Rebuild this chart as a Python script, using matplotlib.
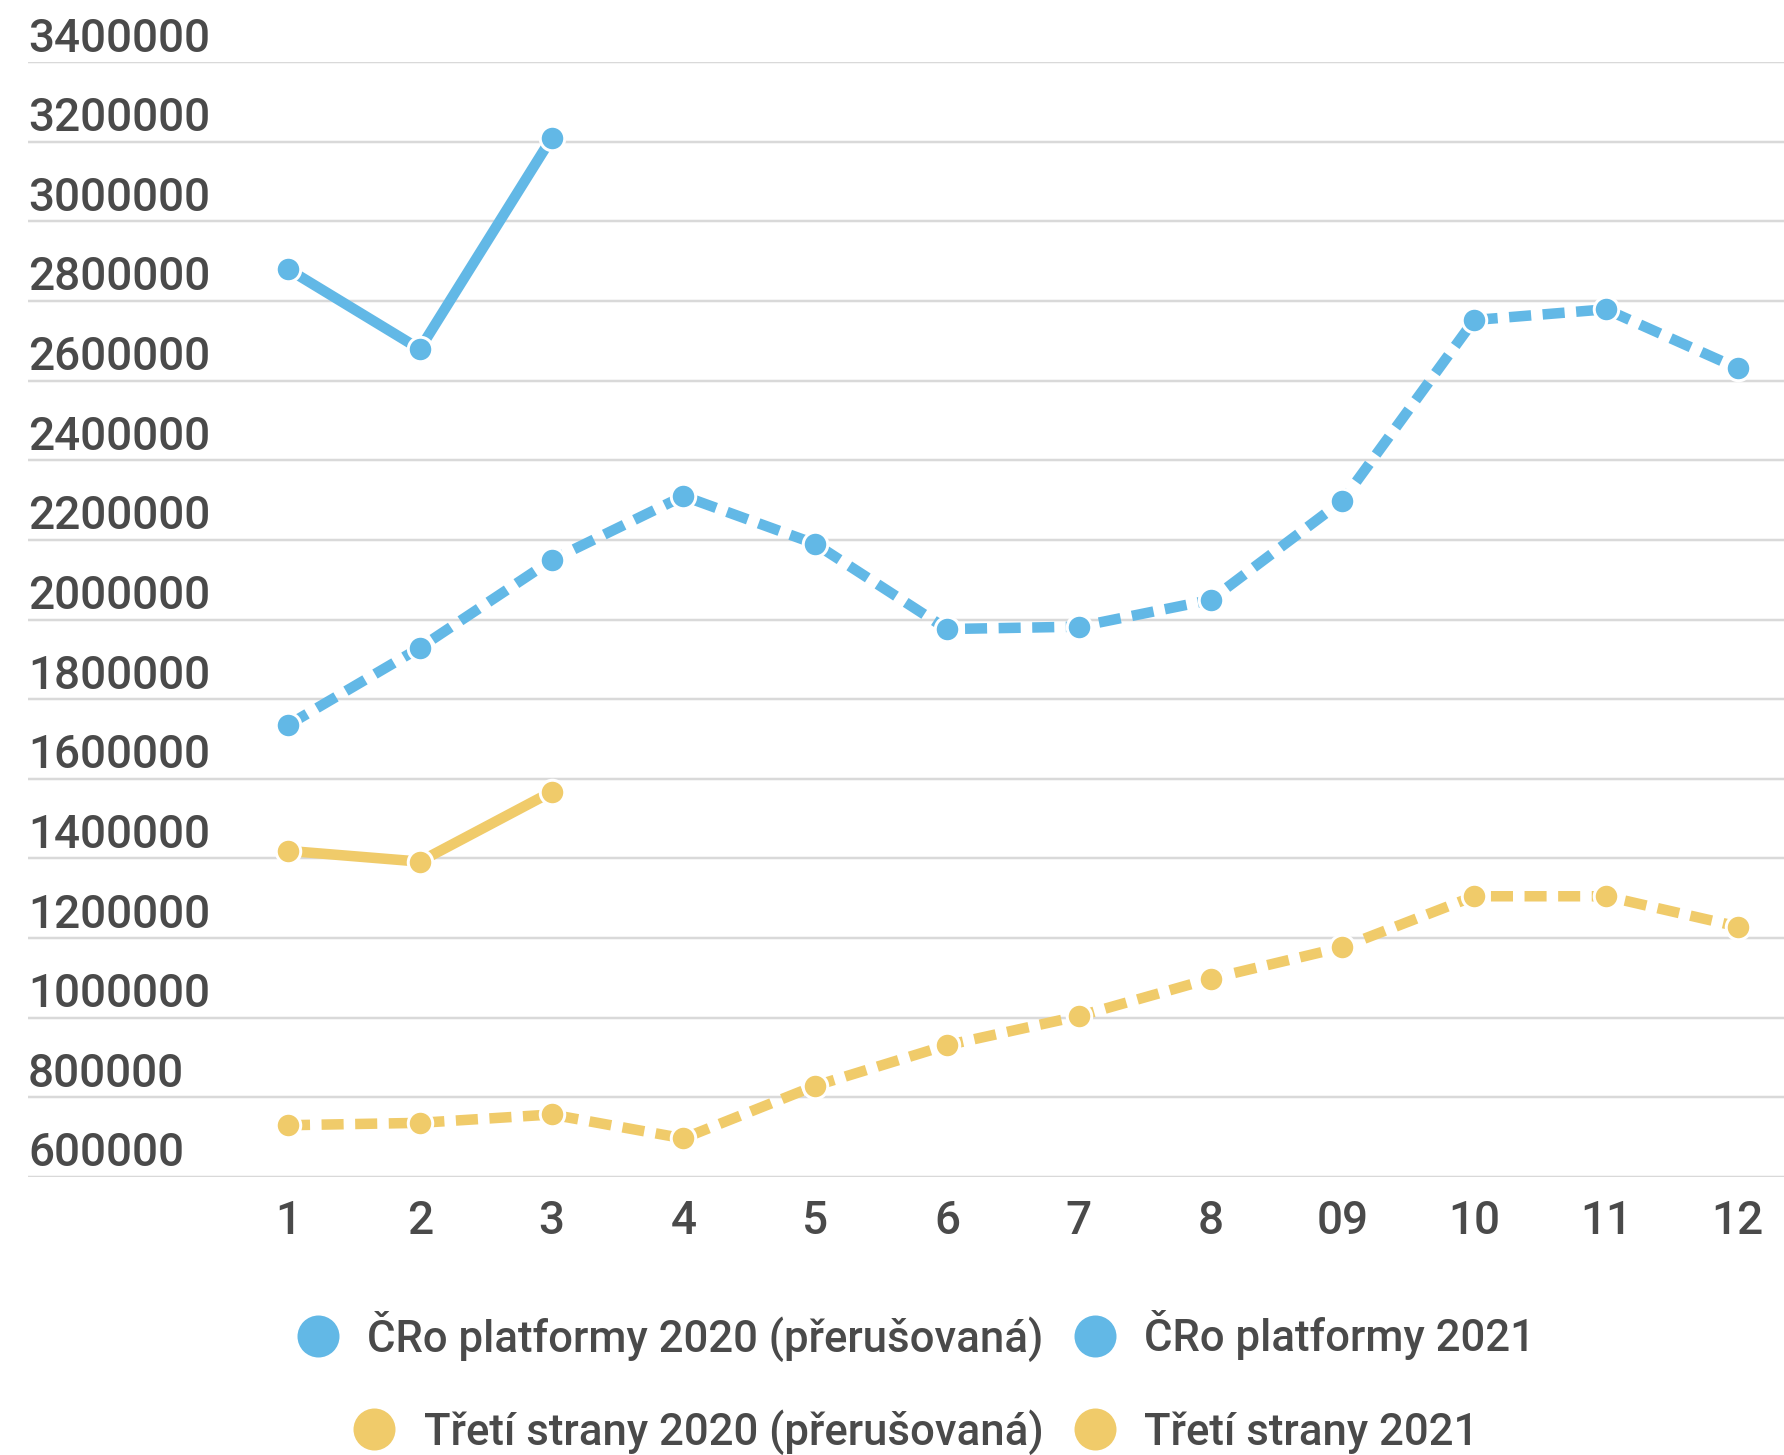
import matplotlib
matplotlib.use("Agg")
import matplotlib.pyplot as plt
import matplotlib.transforms as mtransforms
from matplotlib.lines import Line2D

# data
months = ["1", "2", "3", "4", "5", "6", "7", "8", "09", "10", "11", "12"]
cro_2020 = [1735000, 1929000, 2149000, 2310000, 2190000, 1976000,
            1982000, 2049000, 2298000, 2752000, 2779000, 2631000]
cro_2021 = [2880000, 2679000, 3209000]
treti_2020 = [730000, 736000, 757000, 697000, 829000, 931000,
              1004000, 1098000, 1177000, 1305000, 1305000, 1229000]
treti_2021 = [1419000, 1392000, 1567000]
y_ticks = list(range(600000, 3400001, 200000))

legend_rows = [
    ["ČRo platformy 2020 (přerušovaná)", "ČRo platformy 2021"],
    ["Třetí strany 2020 (přerušovaná)", "Třetí strany 2021"],
]

BLUE = "#62b8e6"
YELLOW = "#f0cb6a"
TEXT = "#4a4a4a"
GRID = "#d9d9d9"

plt.rcParams["font.family"] = ["Roboto", "DejaVu Sans"]

DPI = 100
fig = plt.figure(figsize=(17.84, 14.55), dpi=DPI)
px = 72 / DPI  # one pixel in points

ax = fig.add_axes([28 / 1784, 1 - 1177 / 1455, 1 - 28 / 1784, (1177 - 62) / 1455])
for side in ax.spines.values():
    side.set_visible(False)

x = list(range(1, len(months) + 1))
line_kw = dict(lw=10.5 * px, marker="o", ms=24.5 * px, mec="white", mew=3 * px,
               clip_on=False, solid_capstyle="butt")
dash = (2.1, 1.1)

ax.plot(x, treti_2020, color=YELLOW, dashes=dash, zorder=3, **line_kw)
ax.plot(x[:len(treti_2021)], treti_2021, color=YELLOW, zorder=3, **line_kw)
ax.plot(x, cro_2020, color=BLUE, dashes=dash, zorder=4, **line_kw)
ax.plot(x[:len(cro_2021)], cro_2021, color=BLUE, zorder=4, **line_kw)

ax.set_xlim(1 - 260 / 131.8, 12 + 46.3 / 131.8)
ax.set_ylim(y_ticks[0], y_ticks[-1])

ax.set_yticks(y_ticks)
ax.set_yticklabels([])
ax.tick_params(axis="y", length=0)
ax.grid(True, axis="y", color=GRID, lw=2.5 * px, zorder=0)
ax.set_axisbelow(True)

# y labels sit inside the plot, just above their grid line
lab_tr = mtransforms.offset_copy(ax.get_yaxis_transform(), fig=fig, x=0, y=10.5, units="dots")
for v in y_ticks:
    ax.text(0, v, str(v), transform=lab_tr, ha="left", va="baseline",
            fontsize=33, color=TEXT, fontweight="medium")

ax.set_xticks(x)
ax.set_xticklabels(months)
ax.tick_params(axis="x", length=0, pad=16, labelsize=33, labelcolor=TEXT)
for lbl in ax.get_xticklabels():
    lbl.set_fontweight("medium")

# two centred legend rows, like the original wrap layout
row_colors = [BLUE, YELLOW]
row_y = [1336, 1432]
for labels, col, yy in zip(legend_rows, row_colors, row_y):
    handles = [Line2D([], [], ls="none", marker="o", ms=42 * px, color=col, mew=0)
               for _ in labels]
    fig.legend(handles, labels, loc="center", ncol=2,
               bbox_to_anchor=(916 / 1784, 1 - yy / 1455),
               frameon=False, handlelength=0.97,
               handletextpad=0.65, columnspacing=0.68, borderpad=0,
               borderaxespad=0, labelcolor=TEXT,
               prop={"weight": "medium", "size": 31.5})

fig.savefig("out.png", dpi=DPI)
